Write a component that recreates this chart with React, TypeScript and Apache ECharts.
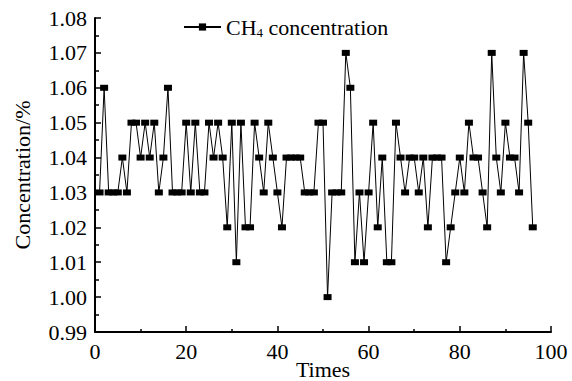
import React, { useEffect, useRef } from "react";
import * as echarts from "echarts";

const concentration: number[] = [
  1.03, 1.06, 1.03, 1.03, 1.03, 1.04, 1.03, 1.05, 1.05, 1.04,
  1.05, 1.04, 1.05, 1.03, 1.04, 1.06, 1.03, 1.03, 1.03, 1.05,
  1.03, 1.05, 1.03, 1.03, 1.05, 1.04, 1.05, 1.04, 1.02, 1.05,
  1.01, 1.05, 1.02, 1.02, 1.05, 1.04, 1.03, 1.05, 1.04, 1.03,
  1.02, 1.04, 1.04, 1.04, 1.04, 1.03, 1.03, 1.03, 1.05, 1.05,
  1.00, 1.03, 1.03, 1.03, 1.07, 1.06, 1.01, 1.03, 1.01, 1.03,
  1.05, 1.02, 1.04, 1.01, 1.01, 1.05, 1.04, 1.03, 1.04, 1.04,
  1.03, 1.04, 1.02, 1.04, 1.04, 1.04, 1.01, 1.02, 1.03, 1.04,
  1.03, 1.05, 1.04, 1.04, 1.03, 1.02, 1.07, 1.04, 1.03, 1.05,
  1.04, 1.04, 1.03, 1.07, 1.05, 1.02,
];

const xTicks = { min: 0, max: 100, interval: 20 };
const yTicks = { min: 0.99, max: 1.08, interval: 0.01 };

const FONT = "'Liberation Serif', 'Times New Roman', serif";

export default function App() {
  const ref = useRef<HTMLDivElement>(null);
  useEffect(() => {
    document.body.style.margin = "0";
    if (!ref.current) return;
    const chart = echarts.init(ref.current, null, { renderer: "svg" });
    const data = concentration.map((v, i) => [i + 1, v]);
    const axisLine = { show: true, lineStyle: { color: "#000", width: 2 } };
    chart.setOption({
      animation: false,
      backgroundColor: "#fff",
      textStyle: { fontFamily: FONT, color: "#000" },
      grid: { left: 95, right: 21, top: 18, bottom: 49, containLabel: false, outerBoundsMode: "none" },
      legend: {
        show: true,
        left: 183,
        top: 16,
        padding: 0,
        itemWidth: 37,
        itemHeight: 9,
        formatter: () => "{a|CH}{s|4}{a| concentration}",
        textStyle: {
          fontFamily: FONT,
          fontSize: 22,
          color: "#000",
          rich: {
            a: { fontFamily: FONT, fontSize: 22, color: "#000", lineHeight: 24 },
            s: { fontFamily: FONT, fontSize: 13, color: "#000", lineHeight: 12, verticalAlign: "bottom" },
          },
        },
      },
      xAxis: {
        type: "value",
        min: xTicks.min,
        max: xTicks.max,
        interval: xTicks.interval,
        name: "Times",
        nameLocation: "middle",
        nameGap: 27,
        nameMoveOverlap: false,
        nameTextStyle: { fontFamily: FONT, fontSize: 22, color: "#000", lineHeight: 20 },
        axisLine,
        axisTick: { show: true, inside: true, length: 6, lineStyle: { color: "#000", width: 1.5 } },
        minorTick: { show: true, splitNumber: 2, length: 3, lineStyle: { color: "#000", width: 1.5 } },
        axisLabel: { fontFamily: FONT, fontSize: 22, color: "#000", margin: 8 },
        splitLine: { show: false },
      },
      yAxis: {
        type: "value",
        min: yTicks.min,
        max: yTicks.max,
        interval: yTicks.interval,
        name: "Concentration/%",
        nameLocation: "middle",
        nameGap: 62,
        nameMoveOverlap: false,
        nameTextStyle: { fontFamily: FONT, fontSize: 22, color: "#000" },
        axisLine,
        axisTick: { show: true, inside: true, length: 6, lineStyle: { color: "#000", width: 1.5 } },
        minorTick: { show: true, splitNumber: 2, length: 4, lineStyle: { color: "#000", width: 1.5 } },
        axisLabel: {
          fontFamily: FONT,
          fontSize: 22,
          color: "#000",
          margin: 8,
          formatter: (v: number) => v.toFixed(2),
        },
        splitLine: { show: false },
      },
      series: [
        {
          name: "CH4 concentration",
          type: "line",
          data,
          symbol: "rect",
          symbolSize: [8, 6],
          itemStyle: { color: "#000" },
          lineStyle: { color: "#000", width: 1 },
        },
      ],
    });
    return () => chart.dispose();
  }, []);
  return <div ref={ref} style={{ width: 572, height: 381 }} />;
}
